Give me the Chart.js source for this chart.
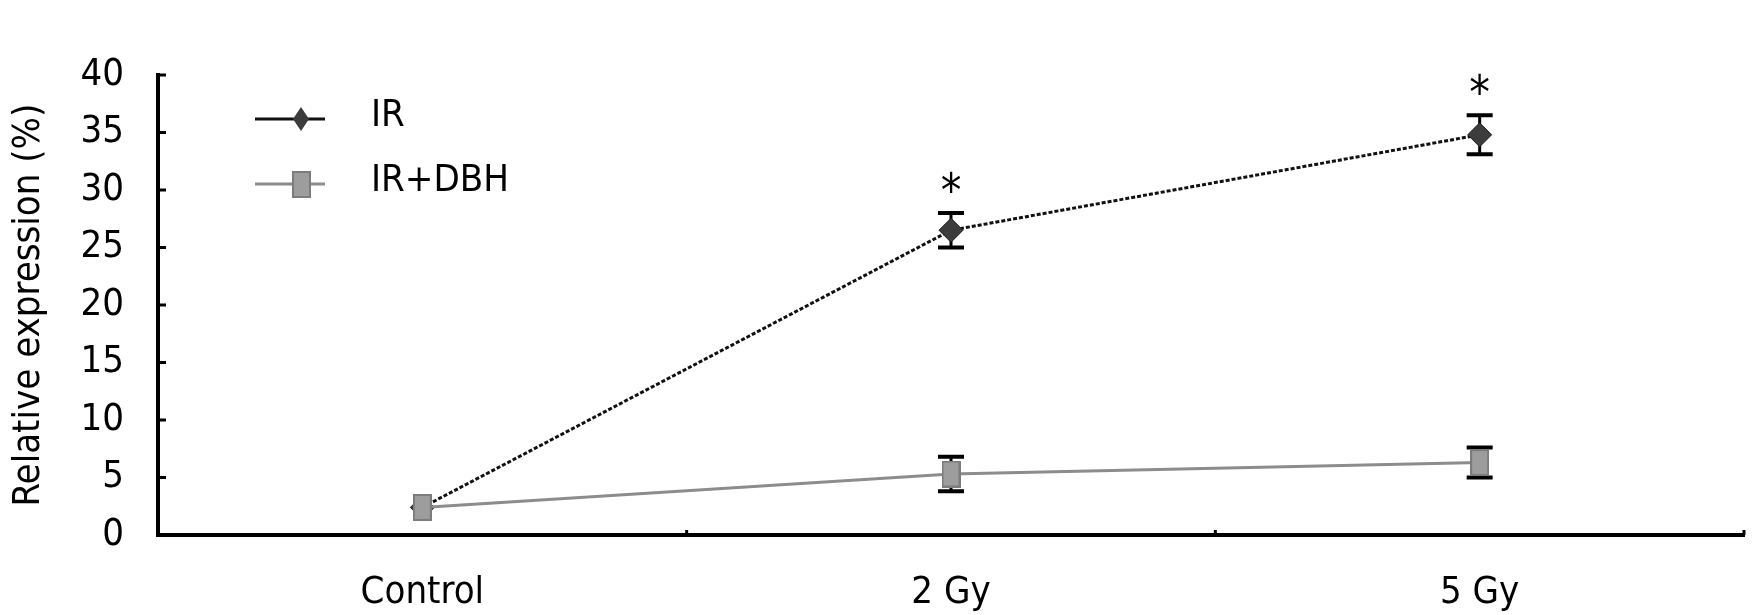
<!DOCTYPE html>
<html>
<head>
<meta charset="utf-8">
<title>Relative expression</title>
<script src="https://cdn.jsdelivr.net/npm/chart.js@4.4.1/dist/chart.umd.min.js"></script>
<style>
  html, body { margin: 0; padding: 0; background: #fff; }
</style>
</head>
<body>
<canvas id="exprChart" width="1757" height="615"></canvas>
<script>
// Values
const categories = ['Control', '2 Gy', '5 Gy'];
const irValues = [2.4, 26.5, 34.8];
const irErrors = [0, 1.5, 1.7];
const irStars = ['', '*', '*'];
const dbhValues = [2.4, 5.3, 6.3];
const dbhErrors = [0, 1.5, 1.3];
const yTicks = [0, 5, 10, 15, 20, 25, 30, 35, 40];

const FONT = "'DejaVu Sans Condensed', 'Liberation Sans', sans-serif";

// Grey square marker, a bit taller than wide
const squareMarker = document.createElement('canvas');
squareMarker.width = 19;
squareMarker.height = 27;
(function() {
    const c = squareMarker.getContext('2d');
    c.fillStyle = '#9d9d9d';
    c.fillRect(0, 0, 19, 27);
    c.strokeStyle = '#7c7c7c';
    c.lineWidth = 2;
    c.strokeRect(1, 1, 17, 25);
})();

// Error bars (under the markers) and significance stars
const errorBars = {
    id: 'errorBars',
    beforeDatasetsDraw(chart) {
        const ctx = chart.ctx;
        const xs = chart.scales.x, ys = chart.scales.y;
        const sets = [[irValues, irErrors], [dbhValues, dbhErrors]];
        ctx.save();
        ctx.strokeStyle = '#000';
        sets.forEach(([vals, errs]) => {
            vals.forEach((v, i) => {
                if (!errs[i]) return;
                const px = xs.getPixelForValue(i);
                const top = ys.getPixelForValue(v + errs[i]);
                const bot = ys.getPixelForValue(v - errs[i]);
                ctx.lineWidth = 3;
                ctx.beginPath();
                ctx.moveTo(px, top);
                ctx.lineTo(px, bot);
                ctx.stroke();
                ctx.lineWidth = 4;
                ctx.beginPath();
                ctx.moveTo(px - 13, top); ctx.lineTo(px + 13, top);
                ctx.moveTo(px - 13, bot); ctx.lineTo(px + 13, bot);
                ctx.stroke();
            });
        });
        ctx.restore();
    },
    afterDatasetsDraw(chart) {
        const ctx = chart.ctx;
        const xs = chart.scales.x, ys = chart.scales.y;
        ctx.save();
        ctx.fillStyle = '#000';
        ctx.font = '46px ' + FONT;
        ctx.textAlign = 'center';
        ctx.textBaseline = 'middle';
        irStars.forEach((s, i) => {
            if (!s) return;
            const top = ys.getPixelForValue(irValues[i] + irErrors[i]);
            ctx.fillText(s, xs.getPixelForValue(i), top - 19);
        });
        ctx.restore();
    }
};

// Small tick marks pointing into the plot
const inwardTicks = {
    id: 'inwardTicks',
    afterDraw(chart) {
        const ctx = chart.ctx;
        const area = chart.chartArea;
        const xs = chart.scales.x, ys = chart.scales.y;
        ctx.save();
        ctx.strokeStyle = '#000';
        ctx.lineWidth = 3;
        ctx.beginPath();
        yTicks.forEach(v => {
            const py = ys.getPixelForValue(v);
            ctx.moveTo(area.left, py);
            ctx.lineTo(area.left + 8, py);
        });
        categories.forEach((c, i) => {
            const px = i < categories.length - 1
                ? (xs.getPixelForValue(i) + xs.getPixelForValue(i + 1)) / 2
                : area.right;
            ctx.moveTo(px, area.bottom);
            ctx.lineTo(px, area.bottom - 5);
        });
        ctx.stroke();
        ctx.restore();
    }
};

// Legend drawn inside the plot, top left
const legendBox = {
    id: 'legendBox',
    afterDraw(chart) {
        const ctx = chart.ctx;
        const area = chart.chartArea;
        const x0 = area.left + 97;
        const rows = [area.top + 44, area.top + 109];
        const sets = chart.data.datasets;
        ctx.save();
        sets.forEach((ds, k) => {
            const y = rows[k];
            ctx.strokeStyle = ds.borderColor;
            ctx.lineWidth = 3;
            ctx.setLineDash([]);
            ctx.beginPath();
            ctx.moveTo(x0, y);
            ctx.lineTo(x0 + 70, y);
            ctx.stroke();
            const mx = x0 + 46;
            if (k === 0) {
                ctx.fillStyle = ds.pointBackgroundColor;
                ctx.beginPath();
                ctx.moveTo(mx, y - 12);
                ctx.lineTo(mx + 8, y);
                ctx.lineTo(mx, y + 12);
                ctx.lineTo(mx - 8, y);
                ctx.closePath();
                ctx.fill();
            } else {
                ctx.drawImage(squareMarker, mx - 9, y - 13);
            }
            ctx.fillStyle = '#000';
            ctx.font = '38px ' + FONT;
            ctx.textAlign = 'left';
            ctx.textBaseline = 'middle';
            ctx.fillText(ds.label, x0 + 116, y - 3);
        });
        ctx.restore();
    }
};

const exprCtx = document.getElementById('exprChart').getContext('2d');
const exprChart = new Chart(exprCtx, {
    type: 'line',
    data: {
        labels: categories,
        datasets: [{
            label: 'IR',
            data: irValues,
            borderColor: '#111111',
            borderWidth: 3,
            borderDash: [4, 2],
            pointStyle: 'rectRot',
            pointRadius: 12,
            pointBackgroundColor: '#3c3c3c',
            pointBorderColor: '#1c1c1c',
            pointBorderWidth: 1,
            tension: 0,
            order: 2
        }, {
            label: 'IR+DBH',
            data: dbhValues,
            borderColor: '#8c8c8c',
            borderWidth: 3,
            pointStyle: squareMarker,
            tension: 0,
            order: 1
        }]
    },
    options: {
        responsive: false,
        animation: false,
        layout: { padding: { top: 75, right: 12, left: 0, bottom: 0 } },
        plugins: {
            legend: { display: false },
            tooltip: { enabled: false }
        },
        scales: {
            x: {
                offset: true,
                grid: { display: false, drawTicks: false },
                border: { display: true, color: '#000', width: 4 },
                ticks: { color: '#000', font: { family: FONT, size: 38 }, padding: 35, maxRotation: 0 },
                afterFit(scale) { scale.height = 80; }
            },
            y: {
                min: 0,
                max: 40,
                afterBuildTicks(scale) { scale.ticks = yTicks.map(v => ({ value: v })); },
                grid: { display: false, drawTicks: false },
                border: { display: true, color: '#000', width: 4 },
                ticks: { color: '#000', font: { family: FONT, size: 38 }, padding: 34 },
                title: {
                    display: true,
                    text: 'Relative expression (%)',
                    color: '#000',
                    font: { family: FONT, size: 38 },
                    padding: { top: 6, bottom: 0 }
                },
                afterFit(scale) { scale.width = 158; }
            }
        }
    },
    plugins: [errorBars, inwardTicks, legendBox]
});
</script>
</body>
</html>
